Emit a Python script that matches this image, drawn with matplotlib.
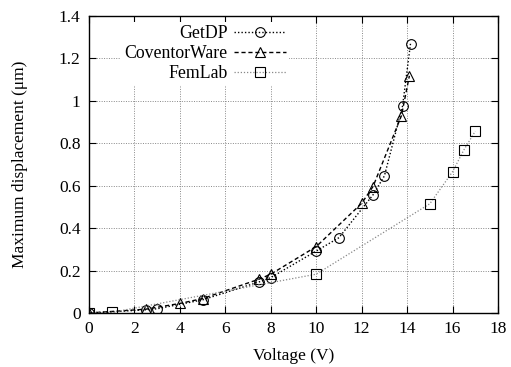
import matplotlib
matplotlib.use("Agg")
import matplotlib.pyplot as plt
from matplotlib.ticker import FormatStrFormatter

plt.rcParams["font.family"] = ["Liberation Serif", "DejaVu Serif"]
plt.rcParams["font.size"] = 12.5

# GetDP
getdp_v = [0, 2.5, 3, 5, 7.5, 8, 10, 11, 12.5, 13, 13.8, 14.15]
getdp_d = [0, 0.015, 0.02, 0.062, 0.147, 0.167, 0.292, 0.355, 0.557, 0.646, 0.976, 1.27]

# CoventorWare
cov_v = [0, 2.5, 4, 5, 7.5, 8, 10, 12, 12.5, 13.75, 14.1]
cov_d = [0, 0.018, 0.045, 0.068, 0.16, 0.183, 0.313, 0.517, 0.596, 0.93, 1.118]

# FemLab
fem_v = [0, 1, 10, 15, 16, 16.5, 17]
fem_d = [0, 0.003, 0.183, 0.515, 0.666, 0.769, 0.857]

x_ticks = list(range(0, 19, 2))
y_ticks = [0, 0.2, 0.4, 0.6, 0.8, 1.0, 1.2, 1.4]

fig = plt.figure(figsize=(5.11, 3.67), dpi=100)
ax = fig.add_axes([89 / 511, 1 - 313 / 367, 409 / 511, 297 / 367])

ax.plot(getdp_v, getdp_d, color="black", linestyle=(0, (1, 1.5)), lw=1.0,
        marker="o", ms=7, mfc="none", mec="black", mew=0.8, label="GetDP")
ax.plot(cov_v, cov_d, color="black", linestyle=(0, (3, 2)), lw=1.0,
        marker="^", ms=7, mfc="none", mec="black", mew=0.8, label="CoventorWare")
ax.plot(fem_v, fem_d, color="#888888", linestyle=(0, (1, 1.5)), lw=0.9,
        marker="s", ms=7, mfc="none", mec="black", mew=0.8, label="FemLab")

ax.set_xlim(0, 18)
ax.set_ylim(0, 1.4)
ax.set_xticks(x_ticks)
ax.set_yticks(y_ticks)
ax.yaxis.set_major_formatter(FormatStrFormatter("%g"))
ax.tick_params(direction="in", top=True, right=True, length=5, width=0.8,
               labelsize=12.5, pad=6)
ax.grid(True, linestyle=(0, (1, 1.5)), color="#888888", lw=0.7)
for s in ax.spines.values():
    s.set_linewidth(1.0)

ax.set_xlabel("Voltage (V)", fontsize=12.5, labelpad=8)
ax.set_ylabel("Maximum displacement (\u03bcm)", fontsize=12.5, labelpad=22)

leg = ax.legend(loc="upper right", bbox_to_anchor=(298 / 511, 1 - 13 / 367),
                bbox_transform=fig.transFigure, markerfirst=False,
                handlelength=2.9, handletextpad=0.35, labelspacing=0.15,
                borderpad=0.2, fancybox=False, framealpha=1, fontsize=12.8)
leg.get_frame().set_edgecolor("none")
leg.get_frame().set_facecolor("white")

fig.savefig("out.png", dpi=100)
